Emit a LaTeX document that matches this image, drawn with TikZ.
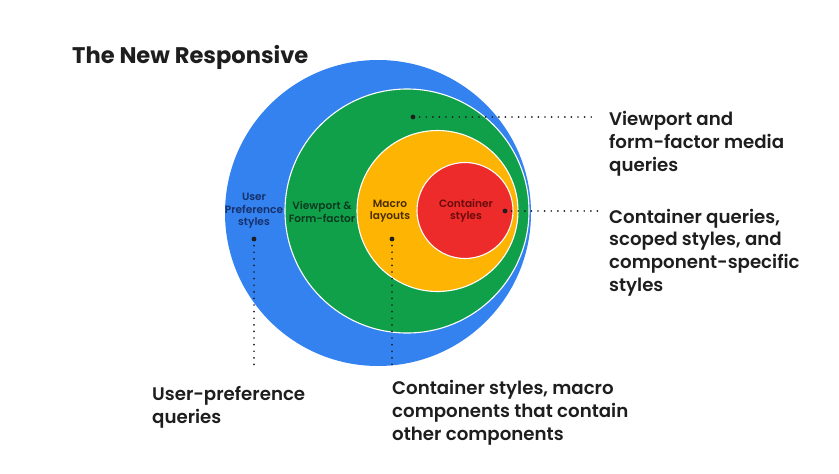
\documentclass[tikz,border=0pt]{standalone}
\usepackage{fontspec}
\setmainfont{Poppins}[BoldFont={Poppins SemiBold}]
\newfontfamily\titlefont{Poppins}[UprightFont={* Bold}]
\usetikzlibrary{positioning,calc}
\definecolor{gblue}{HTML}{3382F0}
\definecolor{ggreen}{HTML}{10A04A}
\definecolor{gyellow}{HTML}{FDB402}
\definecolor{gred}{HTML}{EE2B2B}
\definecolor{ink}{HTML}{1E1E1E}
\definecolor{navyink}{HTML}{16306A}
\definecolor{greenink}{HTML}{0B3A1E}
\definecolor{brownink}{HTML}{4A2E00}
\definecolor{redink}{HTML}{6A0B0B}
\tikzset{
  ring/.style={draw=white,line width=1.1pt},
  leader/.style={ink,line width=1.9pt,line cap=round,dash pattern=on 0pt off 6.6pt},
  tip/.style={fill=ink},
  inlabel/.style={font=\fontsize{10.6}{12.4}\selectfont\bfseries,align=center},
  outlabel/.style={font=\fontsize{18.2}{22.6}\selectfont\bfseries,align=left,text=ink,anchor=base west,inner sep=0pt}
}
\begin{document}
\begin{tikzpicture}[x=1pt,y=-1pt]
  \useasboundingbox (0,0) rectangle (839,474);
  \node[font=\fontsize{22.6}{28}\titlefont,text=ink,anchor=base west,inner sep=0pt] (title) at (72,63) {The New Responsive};
  \fill[gblue] (378,213) circle (153);
  \draw[ring,fill=ggreen] (407,211) circle (122);
  \draw[ring,fill=gyellow] (437.5,211) circle (80.5);
  \draw[ring,fill=gred] (465,210.5) circle (48);
  \node[inlabel,text=navyink] (user) at (254,211) {User\\Preference\\styles};
  \node[inlabel,text=greenink] (view) at (322,212) {Viewport \&\\Form-factor};
  \node[inlabel,text=brownink] (macro) at (390,211) {Macro\\layouts};
  \node[inlabel,text=redink] (cont) at (466,211) {Container\\styles};
  \coordinate (viewdot) at (413,117);
  \coordinate (contdot) at (505,211);
  \coordinate (userdot) at (254,239);
  \coordinate (macrodot) at (392,239);
  % base = baseline of the last line
  \node[outlabel] (viewq) at (609,171) {Viewport and\\form-factor media\\queries};
  \node[outlabel] (contq) at (609,291) {Container queries,\\scoped styles, and\\component-specific\\styles};
  \node[outlabel] (userq) at (152,423) {User-preference\\queries};
  \node[outlabel] (macroq) at (392,440) {Container styles, macro\\components that contain\\other components};
  \coordinate (viewend) at (592,117);
  \coordinate (contend) at (600,211);
  \coordinate (userend) at (254,370);
  \coordinate (macroend) at (392,370);
  \draw[leader] (viewdot) -- (viewend);
  \draw[leader] (contdot) -- (contend);
  \draw[leader] (userdot) -- (userend);
  \draw[leader] (macrodot) -- (macroend);
  \foreach \d in {viewdot,contdot,userdot,macrodot}
    \fill[tip] (\d) circle (2.4);
\end{tikzpicture}
\end{document}
